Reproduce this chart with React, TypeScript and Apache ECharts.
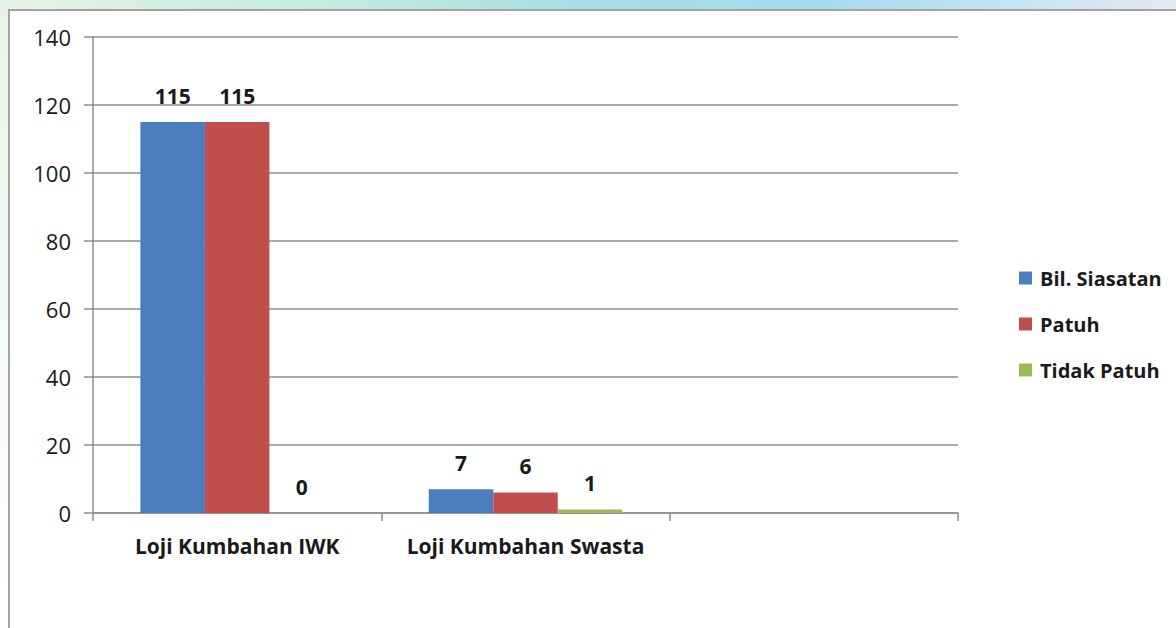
import React, { useEffect, useRef } from "react";
import * as echarts from "echarts";

const categories = ["Loji Kumbahan IWK", "Loji Kumbahan Swasta", ""];
const bilSiasatan = [115, 7, null];
const patuh = [115, 6, null];
const tidakPatuh = [0, 1, null];
const seriesNames = ["Bil. Siasatan", "Patuh", "Tidak Patuh"];
const colors = ["#4a7ebf", "#c24e4b", "#9bbb59"];

const FONT = "'Open Sans', 'Noto Sans', sans-serif";

export default function App() {
  const ref = useRef<HTMLDivElement>(null);
  useEffect(() => {
    if (!ref.current) return;
    const chart = echarts.init(ref.current, null, { renderer: "svg" });
    const label = {
      show: true,
      position: "top" as const,
      distance: 16,
      fontFamily: FONT,
      fontSize: 21,
      fontWeight: "bold" as const,
      color: "#1a1a1a",
    };
    const datas = [bilSiasatan, patuh, tidakPatuh];
    chart.setOption({
      animation: false,
      backgroundColor: "#ffffff",
      textStyle: { fontFamily: FONT },
      graphic: [
        {
          type: "rect",
          z: -10,
          silent: true,
          shape: { x: 0, y: 0, width: 1176, height: 10 },
          style: {
            fill: new echarts.graphic.LinearGradient(0, 0, 1, 0, [
              { offset: 0, color: "#e6f4e8" },
              { offset: 0.25, color: "#c8ebdf" },
              { offset: 0.5, color: "#a8dde4" },
              { offset: 0.7, color: "#a6dbec" },
              { offset: 1, color: "#e2eaf5" },
            ]),
          },
        },
        {
          type: "rect",
          z: -10,
          silent: true,
          shape: { x: 0, y: 0, width: 8, height: 628 },
          style: {
            fill: new echarts.graphic.LinearGradient(0, 0, 0, 1, [
              { offset: 0, color: "#e6f4e8" },
              { offset: 0.6, color: "#f6fbf6" },
              { offset: 1, color: "#ffffff" },
            ]),
          },
        },
        {
          type: "rect",
          z: -9,
          silent: true,
          shape: { x: 9, y: 10, width: 1200, height: 700 },
          style: { fill: "#ffffff", stroke: "#a3a3a3", lineWidth: 2 },
        },
      ],
      grid: { left: 93, top: 37, right: 218, bottom: 115, containLabel: false },
      legend: {
        orient: "vertical",
        left: 1014,
        top: 263,
        itemGap: 26,
        itemWidth: 13,
        itemHeight: 13,
        icon: "rect",
        data: seriesNames,
        textStyle: {
          fontFamily: FONT,
          fontSize: 20,
          fontWeight: "bold",
          color: "#1a1a1a",
          padding: [0, 0, 0, 3],
        },
      },
      xAxis: {
        type: "category",
        data: categories,
        axisLine: { show: true, lineStyle: { color: "#8f8f8f", width: 1.5 } },
        axisTick: { show: true, length: 8, lineStyle: { color: "#8f8f8f", width: 1.5 } },
        axisLabel: {
          interval: 0,
          hideOverlap: false,
          margin: 22,
          fontFamily: FONT,
          fontSize: 21,
          fontWeight: "bold",
          color: "#1a1a1a",
        },
      },
      yAxis: {
        type: "value",
        min: 0,
        max: 140,
        interval: 20,
        axisLine: { show: true, lineStyle: { color: "#8f8f8f", width: 1.5 } },
        axisTick: { show: true, length: 9, lineStyle: { color: "#8f8f8f", width: 1.5 } },
        splitLine: { show: true, lineStyle: { color: "#8f8f8f", width: 1.5 } },
        axisLabel: { margin: 22, fontFamily: FONT, fontSize: 22, color: "#1a1a1a" },
      },
      series: seriesNames.map((name, i) => ({
        name,
        type: "bar",
        data: datas[i],
        barWidth: 64.5,
        barGap: "0%",
        itemStyle: { color: colors[i] },
        label,
      })),
    });
    return () => chart.dispose();
  }, []);
  return (
    <div
      ref={ref}
      style={{ position: "fixed", left: 0, top: 0, width: 1176, height: 628 }}
    />
  );
}
